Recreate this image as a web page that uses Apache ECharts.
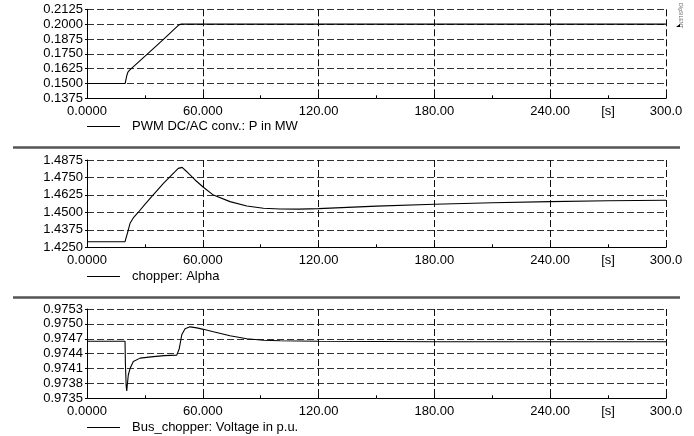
<!DOCTYPE html>
<html>
<head>
<meta charset="utf-8">
<script src="https://cdn.jsdelivr.net/npm/echarts@6/dist/echarts.min.js"></script>
<style>
  html, body { margin: 0; padding: 0; background: #fff; }
  #chart { width: 694px; height: 436px; }
</style>
</head>
<body>
<div id="chart"></div>
<script>
// Simulation time [s] and signals for each of the three plots
const tP = [0, 19.8, 20.2, 20.6, 21.2, 22.2, 23.1, 31.8, 39.6, 47.6, 48.2, 48.8, 300];
const pwmP = [0.15, 0.15, 0.1535, 0.1565, 0.1595, 0.1614, 0.1625, 0.1755, 0.1871, 0.1993, 0.1999, 0.2, 0.2];

const tAlpha = [0, 19.7, 20.2, 20.8, 21.4, 22.3, 24.2, 26.6, 30, 33.5, 39.6, 45.6, 47.3, 48.2, 49.3, 51.7,
  56, 60.3, 65.5, 74.1, 82.8, 91.4, 100, 110, 120, 150, 180, 210, 240, 270, 300];
const chopperAlpha = [1.429, 1.429, 1.4315, 1.4345, 1.4374, 1.4422, 1.4465, 1.4501, 1.4558, 1.4612, 1.4708,
  1.4791, 1.4815, 1.4827, 1.4822, 1.4791, 1.4732, 1.468, 1.4624, 1.4577, 1.4546, 1.453, 1.4524, 1.4523,
  1.4527, 1.4545, 1.4558, 1.4569, 1.4577, 1.4583, 1.4587];

const tVolt = [0, 19.7, 19.9, 20.3, 20.6, 20.9, 21.4, 22.3, 24, 27.5, 34.4, 40, 46.5, 47.3, 47.8, 48.5, 49.1,
  50.8, 53.4, 56.9, 60.3, 65.5, 74.1, 82.8, 91.4, 100, 120, 180, 240, 300];
const busVoltage = [0.97465, 0.97465, 0.9742, 0.97375, 0.97365, 0.97378, 0.97397, 0.9741, 0.97424, 0.97431,
  0.97434, 0.97436, 0.97437, 0.9744, 0.9745, 0.97465, 0.97478, 0.9749, 0.97494, 0.97492, 0.97489, 0.97484,
  0.97476, 0.9747, 0.97467, 0.97466, 0.97465, 0.97464, 0.97464, 0.97464];

// Time axis tick labels (every 30 s, some left blank)
const timeTickLabels = { 0: '0.0000', 60: '60.000', 120: '120.00', 180: '180.00', 240: '240.00', 270: '[s]', 300: '300.0' };

const seriesNames = ['PWM DC/AC conv.: P in MW', 'chopper: Alpha', 'Bus_chopper: Voltage in p.u.'];

// Y-axis ranges: [min, max, step, decimals]
const yRanges = [
  [0.1375, 0.2125, 0.0125, 4],
  [1.425, 1.4875, 0.0125, 4],
  [0.9735, 0.9753, 0.0003, 4]
];

const FONT = 'Liberation Sans, Arial, sans-serif';
const gridBoxes = [
  { top: 9.3, height: 89 },
  { top: 160, height: 87.3 },
  { top: 309, height: 89.3 }
];
const legendTops = [119, 269, 420];

function pairs(t, v) { return t.map((x, i) => [x, v[i]]); }
const seriesData = [pairs(tP, pwmP), pairs(tAlpha, chopperAlpha), pairs(tVolt, busVoltage)];

const chart = echarts.init(document.getElementById('chart'), null, { renderer: 'canvas' });

// Per plot: one time axis carrying line, ticks and labels (30 s steps),
// and an overlaid one that only draws the dashed grid every 60 s.
const xAxes = [];
gridBoxes.forEach((g, i) => {
  xAxes.push({
    type: 'value', gridIndex: i, min: 0, max: 300, interval: 30,
    axisLine: { show: true, onZero: false, lineStyle: { color: '#000', width: 1 } },
    axisTick: { show: true, inside: true, length: 3, lineStyle: { color: '#000' } },
    axisLabel: {
      show: true, margin: 7, color: '#000', fontFamily: FONT, fontSize: 13,
      showMinLabel: true, showMaxLabel: true,
      formatter: v => timeTickLabels[Math.round(v)] || ''
    },
    splitLine: { show: false }
  });
});
gridBoxes.forEach((g, i) => {
  xAxes.push({
    type: 'value', gridIndex: i, min: 0, max: 300, interval: 60, position: 'bottom',
    axisLine: { show: false }, axisTick: { show: false }, axisLabel: { show: false },
    splitLine: { show: true, lineStyle: { color: '#111', type: [7, 3], width: 1 } }
  });
});

const option = {
  animation: false,
  backgroundColor: '#fff',
  grid: gridBoxes.map(g => ({ left: 87, right: 28, top: g.top, height: g.height, containLabel: false })),
  xAxis: xAxes,
  yAxis: yRanges.map((r, i) => ({
    type: 'value', gridIndex: i, min: r[0], max: r[1], interval: r[2],
    axisLine: { show: true, onZero: false, lineStyle: { color: '#000', width: 1 } },
    axisTick: { show: true, inside: false, length: 2, lineStyle: { color: '#000' } },
    axisLabel: {
      show: true, margin: 4, color: '#000', fontFamily: FONT, fontSize: 13,
      showMinLabel: true, showMaxLabel: true,
      formatter: v => v.toFixed(r[3])
    },
    splitLine: { show: true, lineStyle: { color: '#333', type: [7, 3], width: 1 } }
  })),
  legend: seriesNames.map((name, i) => ({
    data: [name], left: 87, top: legendTops[i], padding: 0, orient: 'horizontal',
    selectedMode: false, icon: 'rect', itemWidth: 33, itemHeight: 1, itemGap: 0,
    textStyle: { color: '#000', fontFamily: FONT, fontSize: 13, lineHeight: 15, padding: [0, 0, 0, 7] }
  })),
  series: seriesNames.map((name, i) => ({
    name, type: 'line', xAxisIndex: i, yAxisIndex: i,
    data: seriesData[i], showSymbol: false, symbol: 'none', smooth: false,
    lineStyle: { color: '#000', width: 1.1 }, itemStyle: { color: '#000' }
  })),
  graphic: [
    { type: 'line', shape: { x1: 13, y1: 147.5, x2: 680, y2: 147.5 }, style: { stroke: '#555', lineWidth: 2.5 } },
    { type: 'line', shape: { x1: 13, y1: 297.5, x2: 680, y2: 297.5 }, style: { stroke: '#555', lineWidth: 2.5 } },
    { type: 'text', x: 680, y: 3, rotation: -Math.PI / 2,
      style: { text: 'DIgSILENT', fontSize: 5, fill: '#666', fontFamily: FONT, textAlign: 'left', textVerticalAlign: 'middle' } },
    { type: 'polygon', shape: { points: [[676, 27], [680, 24], [680, 27]] }, style: { fill: '#000' } }
  ]
};

chart.setOption(option);
</script>
</body>
</html>
